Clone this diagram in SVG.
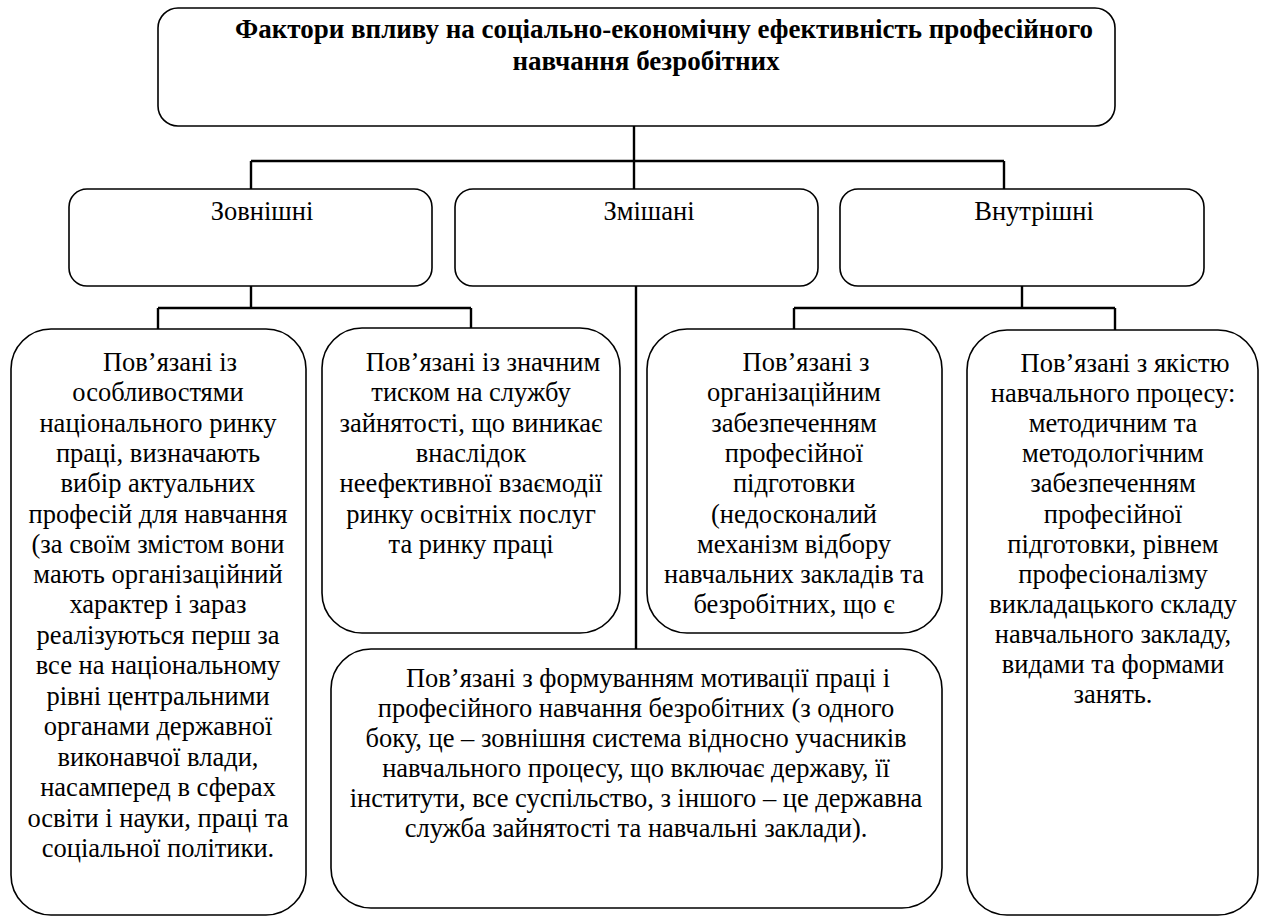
<svg xmlns="http://www.w3.org/2000/svg" width="1263" height="916" viewBox="0 0 1263 916" font-family="'Liberation Serif', 'DejaVu Serif', serif">
<style>
  .box { fill: #ffffff; stroke: #000000; stroke-width: 1.6; }
  .conn { fill: none; stroke: #000000; stroke-width: 2.4; }
  text { font-family: "Liberation Serif", "DejaVu Serif", serif; font-size: 26.5px; fill: #000000; text-anchor: middle; }
  .title { font-weight: bold; font-size: 27px; }
</style>
<rect width="1263" height="916" fill="#ffffff"/>
<g id="connectors">
  <path class="conn" d="M634,126 V161 M251,161 H1004 M251,161 V189 M1004,161 V189 M634,161 V189"/>
  <path class="conn" d="M251,286 V308 M158,308 H471 M158,308 V329 M471,308 V328"/>
  <path class="conn" d="M636,286 V649"/>
  <path class="conn" d="M1022,286 V308 M794,308 H1115 M794,308 V329 M1115,308 V330"/>
</g>
<g id="title">
  <rect class="box" x="158" y="8" width="957" height="118" rx="20"/>
  <text class="title" x="664" y="38">Фактори впливу на соціально-економічну ефективність професійного</text>
  <text class="title" x="646" y="70">навчання безробітних</text>
</g>
<g id="external">
  <rect class="box" x="69" y="189" width="363" height="97" rx="18"/>
  <text x="262" y="220">Зовнішні</text>
</g>
<g id="mixed">
  <rect class="box" x="455" y="189" width="363" height="97" rx="18"/>
  <text x="649" y="220">Змішані</text>
</g>
<g id="internal">
  <rect class="box" x="840" y="189" width="364" height="97" rx="18"/>
  <text x="1034" y="220">Внутрішні</text>
</g>
<g id="ext-market">
  <rect class="box" x="11" y="329" width="295" height="586" rx="40"/>
  <text x="170" y="371">Пов’язані із</text>
  <text x="158" y="401">особливостями</text>
  <text x="158" y="432">національного ринку</text>
  <text x="158" y="462">праці, визначають</text>
  <text x="158" y="492">вибір актуальних</text>
  <text x="158" y="523">професій для навчання</text>
  <text x="158" y="553">(за своїм змістом вони</text>
  <text x="158" y="583">мають організаційний</text>
  <text x="158" y="613">характер і зараз</text>
  <text x="158" y="644">реалізуються перш за</text>
  <text x="158" y="674">все на національному</text>
  <text x="158" y="705">рівні центральними</text>
  <text x="158" y="735">органами державної</text>
  <text x="158" y="766">виконавчої влади,</text>
  <text x="158" y="796">насамперед в сферах</text>
  <text x="158" y="827">освіти і науки, праці та</text>
  <text x="158" y="857">соціальної політики.</text>
</g>
<g id="ext-pressure">
  <rect class="box" x="322" y="328" width="298" height="305" rx="40"/>
  <text x="483" y="371">Пов’язані із значним</text>
  <text x="471" y="401">тиском на службу</text>
  <text x="471" y="432">зайнятості, що виникає</text>
  <text x="471" y="462">внаслідок</text>
  <text x="471" y="492">неефективної взаємодії</text>
  <text x="471" y="523">ринку освітніх послуг</text>
  <text x="471" y="553">та ринку праці</text>
</g>
<g id="int-organization">
  <rect class="box" x="647" y="329" width="295" height="304" rx="40"/>
  <text x="806" y="371">Пов’язані з</text>
  <text x="794" y="401">організаційним</text>
  <text x="794" y="432">забезпеченням</text>
  <text x="794" y="462">професійної</text>
  <text x="794" y="492">підготовки</text>
  <text x="794" y="523">(недосконалий</text>
  <text x="794" y="553">механізм відбору</text>
  <text x="794" y="583">навчальних закладів та</text>
  <text x="794" y="613">безробітних, що є</text>
</g>
<g id="int-quality">
  <rect class="box" x="967" y="330" width="291" height="585" rx="40"/>
  <text x="1125" y="372">Пов’язані з якістю</text>
  <text x="1113" y="402">навчального процесу:</text>
  <text x="1113" y="432">методичним та</text>
  <text x="1113" y="462">методологічним</text>
  <text x="1113" y="492">забезпеченням</text>
  <text x="1113" y="523">професійної</text>
  <text x="1113" y="553">підготовки, рівнем</text>
  <text x="1113" y="583">професіоналізму</text>
  <text x="1113" y="613">викладацького складу</text>
  <text x="1113" y="643">навчального закладу,</text>
  <text x="1113" y="673">видами та формами</text>
  <text x="1113" y="703">занять.</text>
</g>
<g id="mixed-motivation">
  <rect class="box" x="331" y="649" width="611" height="259" rx="40"/>
  <text x="648" y="687">Пов’язані з формуванням мотивації праці і</text>
  <text x="636" y="717">професійного навчання безробітних (з одного</text>
  <text x="636" y="747">боку, це – зовнішня система відносно учасників</text>
  <text x="636" y="777">навчального процесу, що включає державу, її</text>
  <text x="636" y="807">інститути, все суспільство, з іншого – це державна</text>
  <text x="636" y="837">служба зайнятості та навчальні заклади).</text>
</g>
</svg>
